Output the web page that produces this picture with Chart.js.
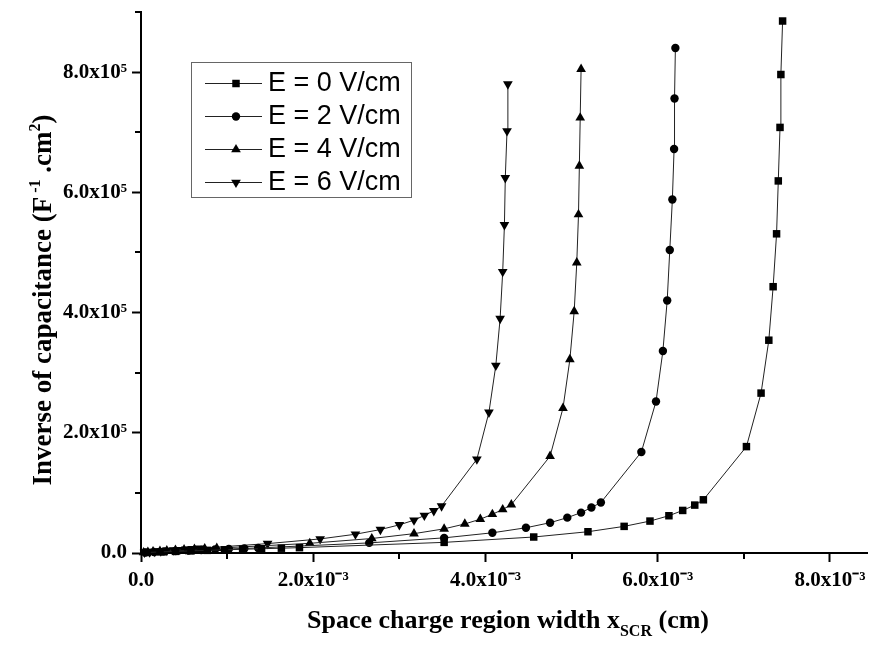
<!DOCTYPE html>
<html>
<head>
<meta charset="utf-8">
<script src="https://cdn.jsdelivr.net/npm/chart.js@4.4.0/dist/chart.umd.min.js"></script>
<style>
  body { margin: 0; background: #fff; }
  #wrap { width: 877px; height: 646px; }
</style>
</head>
<body>
<div id="wrap"><canvas id="capChart"></canvas></div>
<script>
// x in units of 1e-3 cm, y in units of 1e5 F^-1.cm^2
const seriesLabels = ["E = 0 V/cm", "E = 2 V/cm", "E = 4 V/cm", "E = 6 V/cm"];

const xE0 = [0.07, 0.22, 0.40, 0.58, 0.77, 0.97, 1.18, 1.40, 1.63, 1.84, 3.52, 4.56, 5.19, 5.61, 5.91, 6.13, 6.29, 6.43, 6.53, 7.03, 7.20, 7.29, 7.34, 7.38, 7.40, 7.42, 7.43, 7.45];
const yE0 = [0.009, 0.018, 0.027, 0.035, 0.044, 0.053, 0.062, 0.071, 0.080, 0.089, 0.177, 0.266, 0.354, 0.443, 0.531, 0.620, 0.708, 0.797, 0.885, 1.77, 2.66, 3.54, 4.43, 5.31, 6.19, 7.08, 7.96, 8.85];

const xE2 = [0.05, 0.15, 0.27, 0.40, 0.55, 0.70, 0.86, 1.02, 1.20, 1.36, 2.65, 3.52, 4.08, 4.47, 4.75, 4.95, 5.11, 5.23, 5.34, 5.81, 5.98, 6.06, 6.11, 6.14, 6.17, 6.19, 6.195, 6.205];
const yE2 = [0.008, 0.017, 0.025, 0.034, 0.042, 0.050, 0.059, 0.067, 0.076, 0.084, 0.168, 0.252, 0.336, 0.420, 0.504, 0.588, 0.672, 0.756, 0.840, 1.68, 2.52, 3.36, 4.20, 5.04, 5.88, 6.72, 7.56, 8.40];

const xE4 = [0.03, 0.08, 0.14, 0.22, 0.30, 0.40, 0.50, 0.62, 0.74, 0.88, 1.96, 2.68, 3.17, 3.52, 3.76, 3.94, 4.08, 4.20, 4.30, 4.75, 4.90, 4.98, 5.03, 5.06, 5.08, 5.09, 5.10, 5.11];
const yE4 = [0.008, 0.016, 0.024, 0.032, 0.040, 0.048, 0.056, 0.064, 0.072, 0.080, 0.161, 0.241, 0.322, 0.402, 0.483, 0.563, 0.644, 0.724, 0.805, 1.61, 2.41, 3.22, 4.02, 4.83, 5.63, 6.44, 7.24, 8.05];

const xE6 = [0.04, 0.10, 0.16, 0.23, 0.30, 0.38, 0.45, 0.52, 0.60, 0.68, 1.47, 2.08, 2.49, 2.78, 3.00, 3.17, 3.29, 3.40, 3.49, 3.90, 4.04, 4.12, 4.17, 4.20, 4.22, 4.23, 4.25, 4.26];
const yE6 = [0.008, 0.016, 0.023, 0.031, 0.039, 0.047, 0.055, 0.062, 0.070, 0.078, 0.156, 0.234, 0.312, 0.390, 0.468, 0.546, 0.624, 0.702, 0.780, 1.56, 2.34, 3.12, 3.90, 4.68, 5.46, 6.24, 7.02, 7.80];

const xTickValues = [0, 2, 4, 6, 8];
const xTickLabels = ["0.0", "2.0x10\u207B\u00B3", "4.0x10\u207B\u00B3", "6.0x10\u207B\u00B3", "8.0x10\u207B\u00B3"];
const yTickValues = [0, 2, 4, 6, 8];
const yTickLabels = ["0.0", "2.0x10\u2075", "4.0x10\u2075", "6.0x10\u2075", "8.0x10\u2075"];

const serif = "'Liberation Serif', 'Times New Roman', serif";

const toPoints = (xs, ys) => xs.map((x, i) => ({ x: x, y: ys[i] }));

const markers = [
  { style: "rect", radius: 5.3, rotation: 0 },
  { style: "circle", radius: 4.2, rotation: 0 },
  { style: "triangle", radius: 5.6, rotation: 0 },
  { style: "triangle", radius: 5.6, rotation: 180 },
];

const seriesData = [toPoints(xE0, yE0), toPoints(xE2, yE2), toPoints(xE4, yE4), toPoints(xE6, yE6)];

const datasets = seriesData.map((pts, i) => ({
  label: seriesLabels[i],
  data: pts,
  borderColor: "#222",
  borderWidth: 1,
  backgroundColor: "#000",
  pointBackgroundColor: "#000",
  pointBorderWidth: 0,
  pointStyle: markers[i].style,
  pointRadius: markers[i].radius,
  pointRotation: markers[i].rotation,
  tension: 0,
  clip: false,
}));

// minor ticks are shorter than the labelled ones
const minorTicks = {
  id: "minorTicks",
  afterDraw(chart) {
    const ctx = chart.ctx;
    const xs = chart.scales.x, ys = chart.scales.y;
    ctx.save();
    ctx.strokeStyle = "#000";
    ctx.lineWidth = 2;
    xs.ticks.forEach((t) => {
      if (xTickValues.includes(t.value)) return;
      const px = Math.round(xs.getPixelForValue(t.value));
      ctx.beginPath(); ctx.moveTo(px, xs.top); ctx.lineTo(px, xs.top + 6); ctx.stroke();
    });
    ys.ticks.forEach((t) => {
      if (yTickValues.includes(t.value)) return;
      const py = Math.round(ys.getPixelForValue(t.value));
      ctx.beginPath(); ctx.moveTo(ys.right, py); ctx.lineTo(ys.right - 6, py); ctx.stroke();
    });
    ctx.restore();
  },
};

// text with super/subscripts
function drawRich(ctx, parts, size) {
  const big = "bold " + size + "px " + serif;
  const small = "bold " + Math.round(size * 0.6) + "px " + serif;
  let w = 0;
  parts.forEach((p) => { ctx.font = p.m === "n" ? big : small; w += ctx.measureText(p.t).width; });
  let x = -w / 2;
  parts.forEach((p) => {
    ctx.font = p.m === "n" ? big : small;
    const dy = p.m === "sup" ? -size * 0.42 : p.m === "sub" ? size * 0.3 : 0;
    ctx.fillText(p.t, x, dy);
    x += ctx.measureText(p.t).width;
  });
}

const axisTitles = {
  id: "axisTitles",
  afterDraw(chart) {
    const ctx = chart.ctx;
    const area = chart.chartArea;
    ctx.save();
    ctx.fillStyle = "#000";
    ctx.textBaseline = "alphabetic";
    ctx.textAlign = "left";
    ctx.save();
    ctx.translate((area.left + area.right) / 2 + 4, 628);
    drawRich(ctx, [
      { t: "Space charge region width x", m: "n" },
      { t: "SCR", m: "sub" },
      { t: " (cm)", m: "n" },
    ], 26);
    ctx.restore();
    ctx.save();
    ctx.translate(51, 300);
    ctx.rotate(-Math.PI / 2);
    drawRich(ctx, [
      { t: "Inverse of capacitance (F", m: "n" },
      { t: " -1", m: "sup" },
      { t: " .cm", m: "n" },
      { t: "2", m: "sup" },
      { t: ")", m: "n" },
    ], 27);
    ctx.restore();
    ctx.restore();
  },
};

const boxLegend = {
  id: "boxLegend",
  afterDraw(chart) {
    const ctx = chart.ctx;
    ctx.save();
    ctx.strokeStyle = "#666";
    ctx.lineWidth = 1;
    ctx.strokeRect(191.5, 62.5, 220, 135);
    chart.data.datasets.forEach((ds, i) => {
      const y = 83 + i * 33;
      ctx.strokeStyle = "#222";
      ctx.lineWidth = 1;
      ctx.beginPath(); ctx.moveTo(205, y + 0.5); ctx.lineTo(262, y + 0.5); ctx.stroke();
      ctx.fillStyle = "#000";
      Chart.helpers.drawPoint(ctx, {
        pointStyle: ds.pointStyle, rotation: ds.pointRotation,
        radius: ds.pointRadius, borderWidth: 0,
      }, 236, y + 0.5);
      ctx.font = "27px 'Liberation Sans', Arial, sans-serif";
      ctx.textBaseline = "middle";
      ctx.textAlign = "left";
      ctx.fillText(ds.label, 268, y + 1);
    });
    ctx.restore();
  },
};

const tickFont = { family: serif, size: 21, weight: "bold" };

new Chart(document.getElementById("capChart"), {
  type: "line",
  data: { datasets: datasets },
  plugins: [minorTicks, axisTitles, boxLegend],
  options: {
    responsive: true,
    maintainAspectRatio: false,
    animation: false,
    layout: { padding: { left: 0, top: 12, right: 10, bottom: 0 } },
    plugins: { legend: { display: false }, tooltip: { enabled: false } },
    scales: {
      x: {
        type: "linear",
        min: 0,
        max: 8.43,
        afterFit: (scale) => { scale.height = 93; scale.paddingLeft = 0; scale.paddingRight = 0; },
        border: { display: true, color: "#000", width: 2 },
        grid: {
          drawOnChartArea: false,
          drawTicks: true,
          tickLength: 9,
          tickWidth: 2,
          tickColor: (c) => (c.tick && xTickValues.includes(c.tick.value) ? "#000" : "rgba(0,0,0,0)"),
        },
        ticks: {
          stepSize: 1,
          autoSkip: false,
          includeBounds: false,
          maxRotation: 0,
          padding: 6,
          color: "#000",
          font: tickFont,
          callback: (v) => { const i = xTickValues.indexOf(v); return i >= 0 ? xTickLabels[i] : ""; },
        },
      },
      y: {
        type: "linear",
        min: 0,
        max: 9,
        afterFit: (scale) => { scale.width = 141; scale.paddingTop = 0; scale.paddingBottom = 0; },
        border: { display: true, color: "#000", width: 2 },
        grid: {
          drawOnChartArea: false,
          drawTicks: true,
          tickLength: 9,
          tickWidth: 2,
          tickColor: (c) => (c.tick && yTickValues.includes(c.tick.value) ? "#000" : "rgba(0,0,0,0)"),
        },
        ticks: {
          stepSize: 1,
          autoSkip: false,
          includeBounds: false,
          padding: 5,
          color: "#000",
          font: tickFont,
          callback: (v) => { const i = yTickValues.indexOf(v); return i >= 0 ? yTickLabels[i] : ""; },
        },
      },
    },
  },
});
</script>
</body>
</html>
